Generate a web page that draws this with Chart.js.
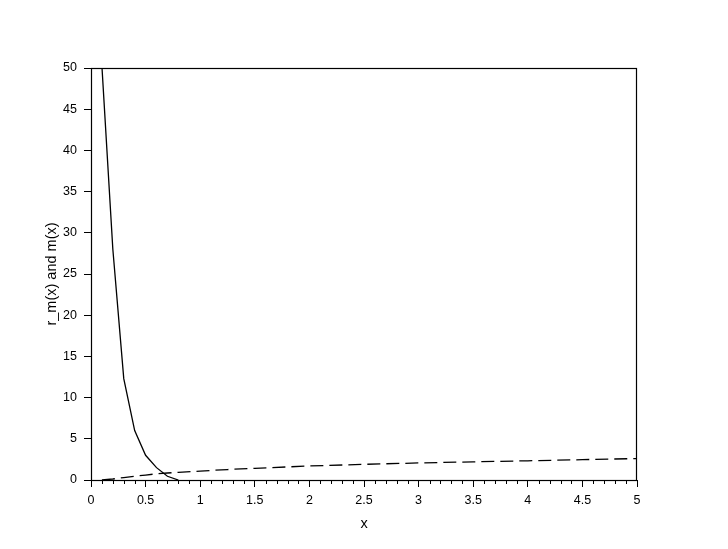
<!DOCTYPE html>
<html>
<head>
<meta charset="utf-8">
<script src="https://cdn.jsdelivr.net/npm/chart.js@4/dist/chart.umd.min.js"></script>
<style>
  html, body { margin: 0; padding: 0; background: #fff; }
  #wrap { width: 728px; height: 549px; }
</style>
</head>
<body>
<div id="wrap"><canvas id="chart" width="728" height="549"></canvas></div>
<script>
// r_m(x), solid curve
const rmX = [0.1, 0.2, 0.3, 0.4, 0.5, 0.6, 0.7, 0.8];
const rmY = [50.2, 28, 12.3, 6.0, 3.0, 1.5, 0.45, 0];

// m(x), dashed curve
const mX = [0.1, 0.2, 0.3, 0.4, 0.5, 0.6, 0.7, 0.8, 1, 1.25, 1.5, 2, 2.5, 3, 3.5, 4, 4.5, 5];
const mY = [0, 0.12, 0.3, 0.45, 0.6, 0.75, 0.85, 0.93, 1.08, 1.27, 1.42, 1.7, 1.9, 2.07, 2.2, 2.33, 2.47, 2.6];

const xTicks = [0, 0.5, 1, 1.5, 2, 2.5, 3, 3.5, 4, 4.5, 5];
const yTicks = [0, 5, 10, 15, 20, 25, 30, 35, 40, 45, 50];

const toPoints = (xs, ys) => xs.map((x, i) => ({ x, y: ys[i] }));

const TICK_FONT = { family: '"Liberation Sans", Arial, sans-serif', size: 12.5 };
const TITLE_FONT = { family: '"Liberation Sans", Arial, sans-serif', size: 14.5 };

// box around the plot plus minor ticks on x
const frame = {
    id: 'frame',
    afterDraw(chart) {
        const { ctx, chartArea: a, scales } = chart;
        ctx.save();
        ctx.strokeStyle = '#000';
        ctx.lineWidth = 1.2;
        ctx.strokeRect(a.left + 0.5, a.top + 0.5, a.right - a.left - 1, a.bottom - a.top);
        ctx.lineWidth = 1;
        ctx.beginPath();
        for (let i = 0; i <= 50; i++) {
            if (i % 5 === 0) continue;
            const px = Math.round(scales.x.getPixelForValue(i / 10)) + 0.5;
            ctx.moveTo(px, a.bottom);
            ctx.lineTo(px, a.bottom + 4);
        }
        ctx.stroke();
        ctx.restore();
    }
};

new Chart(document.getElementById('chart'), {
    type: 'scatter',
    data: {
        datasets: [{
            label: 'r_m(x)',
            data: toPoints(rmX, rmY),
            showLine: true,
            borderColor: '#000',
            borderWidth: 1.3,
            pointRadius: 0,
            clip: 0,
        }, {
            label: 'm(x)',
            data: toPoints(mX, mY),
            showLine: true,
            borderColor: '#000',
            borderWidth: 1.3,
            borderDash: [13, 6],
            pointRadius: 0,
            clip: 0,
        }]
    },
    options: {
        responsive: false,
        animation: false,
        layout: { padding: { top: 68, right: 91, left: 0, bottom: 0 } },
        plugins: { legend: { display: false }, tooltip: { enabled: false } },
        scales: {
            x: {
                type: 'linear',
                min: 0, max: 5,
                afterFit(s) { s.height = 69; },
                afterBuildTicks(s) { s.ticks = xTicks.map(v => ({ value: v })); },
                ticks: { color: '#000', font: TICK_FONT, padding: 6, maxRotation: 0, autoSkip: false,
                         callback: v => String(v) },
                grid: { drawOnChartArea: false, tickLength: 7, tickColor: '#000', color: '#000' },
                border: { color: '#000', width: 1 },
                title: { display: true, text: 'x', color: '#000', font: TITLE_FONT, padding: { top: 0, bottom: 16 } },
            },
            y: {
                type: 'linear',
                min: 0, max: 50,
                afterFit(s) { s.width = 91; },
                afterBuildTicks(s) { s.ticks = yTicks.map(v => ({ value: v })); },
                ticks: { color: '#000', font: TICK_FONT, padding: 7, autoSkip: false,
                         callback: v => String(v) },
                grid: { drawOnChartArea: false, tickLength: 7, tickColor: '#000', color: '#000' },
                border: { color: '#000', width: 1 },
                title: { display: true, text: 'r_m(x) and m(x)', color: '#000', font: TITLE_FONT, padding: { top: 43, bottom: 0 } },
            }
        }
    },
    plugins: [frame]
});
</script>
</body>
</html>
